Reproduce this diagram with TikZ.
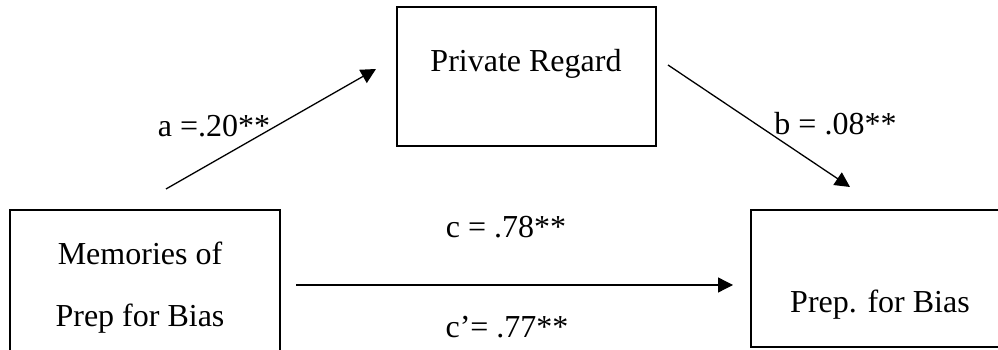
\documentclass[tikz,border=0pt]{standalone}
\usepackage{fontspec}
\setmainfont{Liberation Serif}
\usepackage{tikz}
\usetikzlibrary{arrows.meta,positioning}
\tikzset{varbox/.style={draw,line width=2.4pt,inner sep=0pt},
  lbl/.style={anchor=base,inner sep=0pt,font=\fontsize{32}{38}\selectfont},
  path/.style={-{Triangle[length=15pt,width=15pt]},line width=1.3pt}}

\begin{document}
\begin{tikzpicture}[x=1pt,y=1pt]
\useasboundingbox (0,0) rectangle (998,350);
% boxes
\node[varbox,minimum width=270pt,minimum height=190pt] (mem) at (145,45) {};
\node[varbox,minimum width=259pt,minimum height=139pt] (pr) at (526.5,273.5) {};
\node[varbox,minimum width=259pt,minimum height=137pt] (prep) at (880.5,71.5) {};
\node[lbl] (memtxt) at (140,85) {Memories of};
\node[lbl] (memtxtb) at (140,23) {Prep for Bias};
\node[lbl] (prtxt) at (526,278) {Private Regard};
\node[lbl] (preptxt) at (880,37) {Prep. for Bias};
% paths
\coordinate (a0) at (166,161); \coordinate (a1) at (376,281);
\coordinate (b0) at (668,285); \coordinate (b1) at (850,163);
\coordinate (c0) at (296,65);  \coordinate (c1) at (733,65);
\draw[path] (a0) -- (a1);
\draw[path] (b0) -- (b1);
\draw[path] (c0) -- (c1);
\node[lbl] (alab) at (214,213) {a =.20**};
\node[lbl] (blab) at (835.5,215) {b = .08**};
\node[lbl] (clab) at (506,112) {c = .78**};
\node[lbl] (cplab) at (507,12) {c’= .77**};
\end{tikzpicture}
\end{document}
